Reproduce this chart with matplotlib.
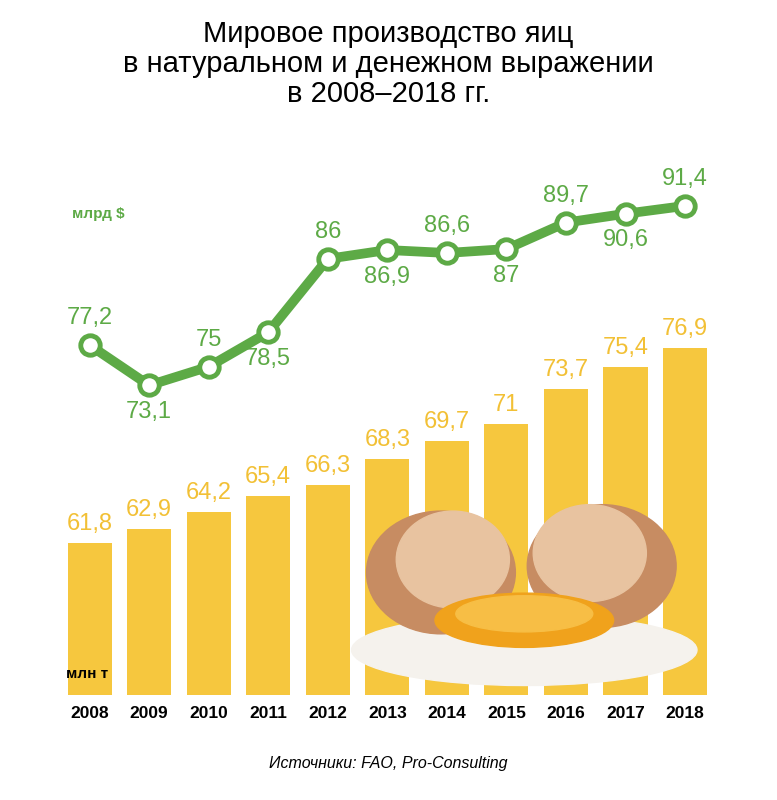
import matplotlib.pyplot as plt
from matplotlib.patches import Ellipse, Wedge

years = [2008, 2009, 2010, 2011, 2012, 2013, 2014, 2015, 2016, 2017, 2018]
volume_mt = [61.8, 62.9, 64.2, 65.4, 66.3, 68.3, 69.7, 71, 73.7, 75.4, 76.9]
value_bn = [77.2, 73.1, 75, 78.5, 86, 86.9, 86.6, 87, 89.7, 90.6, 91.4]
value_lbl = ["77,2", "73,1", "75", "78,5", "86", "86,9", "86,6", "87", "89,7", "90,6", "91,4"]

yellow = "#F6C73E"
yellow_txt = "#F2C035"
green = "#5DAA46"

plt.rcParams['font.family'] = ['Liberation Sans', 'DejaVu Sans']
fig = plt.figure(figsize=(7.77, 8), dpi=100)
ax = fig.add_axes([0.077, 0.131, 0.843, 0.6815])

ax.bar(years, volume_mt, width=0.74, color=yellow, zorder=1)
for x, v in zip(years, volume_mt):
    ax.text(x, v + 0.6, f"{v}".replace(".", ","), ha="center", va="bottom",
            fontsize=17, color=yellow_txt)
ax.set_ylim(50, 92.2)
ax.set_xlim(2007.5, 2018.5)
ax.set_xticks(years)
ax.set_xticklabels([str(y) for y in years], fontsize=12.5, fontweight="bold")
ax.tick_params(length=0, pad=8)
ax.set_yticks([])
for s in ax.spines.values():
    s.set_visible(False)

# rough egg decoration (white, broken shell halves, yolk)
ax.add_patch(Ellipse((2015.3, 53.5), 5.8, 5.5, color="#F5F2ED", zorder=2))
ax.add_patch(Ellipse((2013.9, 59.5), 2.5, 9.5, angle=0, color="#C78C62", zorder=2))
ax.add_patch(Ellipse((2014.1, 60.5), 1.9, 7.5, color="#E8C3A0", zorder=2))
ax.add_patch(Ellipse((2016.6, 60.0), 2.5, 9.5, color="#C78C62", zorder=2))
ax.add_patch(Ellipse((2016.4, 61.0), 1.9, 7.5, color="#E8C3A0", zorder=2))
ax.add_patch(Ellipse((2015.3, 55.8), 3.0, 4.2, color="#F0A21C", zorder=3))
ax.add_patch(Ellipse((2015.3, 56.3), 2.3, 2.8, color="#F7BE45", zorder=3))

ax.text(2007.6, 51.3, "млн т", fontsize=11, fontweight="bold", zorder=4)

ax2 = ax.twinx()
ax2.set_ylim(41.5, 97.1)
ax2.plot(years, value_bn, color=green, lw=7, marker="o", ms=14,
         mfc="white", mec=green, mew=3.5, zorder=5)
for i, (x, v, t) in enumerate(zip(years, value_bn, value_lbl)):
    if i % 2 == 0:
        ax2.text(x, v + 1.6, t, ha="center", va="bottom", fontsize=17, color=green)
    else:
        ax2.text(x, v - 1.6, t, ha="center", va="top", fontsize=17, color=green)
ax2.text(2007.7, 90.2, "млрд $", fontsize=11, fontweight="bold", color=green)
ax2.set_yticks([])
for s in ax2.spines.values():
    s.set_visible(False)

fig.text(0.5, 0.975, "Мировое производство яиц\nв натуральном и денежном выражении\nв 2008–2018 гг.",
         ha="center", va="top", fontsize=21, linespacing=1.1)
fig.text(0.5, 0.04, "Источники: FAO, Pro-Consulting", ha="center", fontsize=11.5,
         style="italic")

fig.savefig("out.png", dpi=100)
